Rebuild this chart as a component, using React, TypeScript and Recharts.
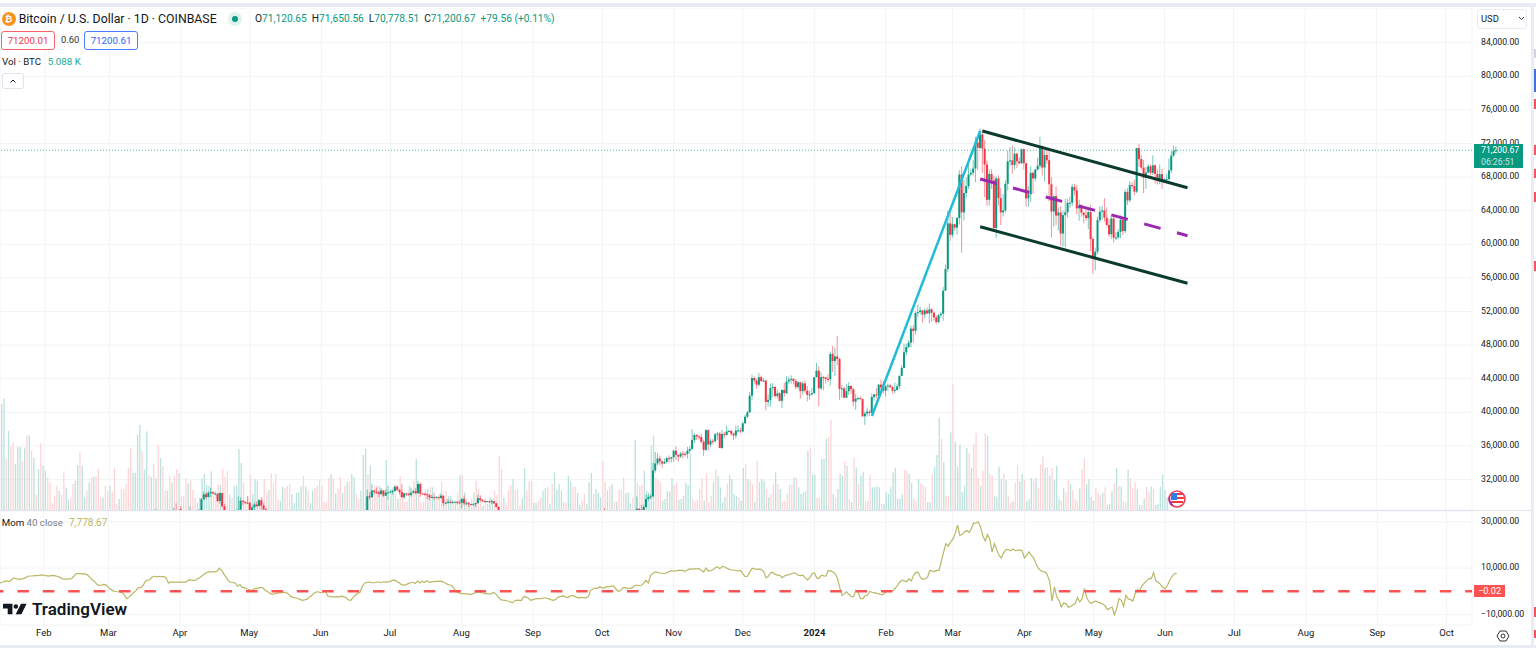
import { Bar, CartesianGrid, ComposedChart, Line, ReferenceLine, XAxis, YAxis } from 'recharts';

const UP = '#089981';
const DOWN = '#f23645';
const MOM = '#bab766';
const GRID = '#f3f4f6';
const FONT = 'Roboto, sans-serif';

const MONTHS = ['2024', 'Feb', 'Mar', 'Apr', 'May', 'Jun', 'Jul', 'Aug', 'Sep', 'Oct', 'Nov', 'Dec'];
const priceTicks = [32000, 36000, 40000, 44000, 48000, 52000, 56000, 60000, 64000, 68000, 72000, 76000, 80000, 84000];
const momTicks = [-10000, 10000, 30000];

// [first day index, number of days]: candles lower than the pane bottom are not listed
const candleRuns = [[67, 1], [75, 2], [78, 1], [82, 1], [86, 12], [102, 14], [158, 59], [262, 1], [276, 235]];

const opens = [
  27800, 27270, 28340, 28470, 28170,
  27950, 28330, 29650, 30240, 29900, 30400, 30490, 30320, 30320, 29440, 30390, 28800,
  27510, 28300, 28420, 29470, 29340, 29250, 29230, 28060, 28680, 29030, 28840, 29530, 28900, 28450,
  26840, 28310, 30000, 29890, 30690, 30530, 30470, 30270, 30690, 30080, 30450, 30470, 30590, 30620, 31150, 30770, 30500, 29890, 30350, 30290,
  30170, 30420, 30620, 30380, 31470, 30310, 30290, 30250, 30140, 29860, 29920, 29800, 29900, 29790, 30080, 29180, 29230, 29350, 29220, 29320,
  29360, 29280, 29230, 29700, 29170, 29180, 29080, 29040, 29050, 29180, 29770, 29560, 29430, 29400, 29420, 29290, 29410, 29170, 28720,
  27980,
  27150, 28510, 28410, 28330, 28720, 29680, 29920, 29990, 33080, 33910, 34500, 34150, 33900, 34090, 34540, 34490,
  34650, 35420, 34940, 34730, 35080, 35050, 35040, 35420, 35640, 36700, 37300, 37130, 37060, 36490, 35540, 37880, 36160, 36600, 36570, 37380, 37470, 35760, 37420, 37290, 37720, 37790, 37450, 37240, 37820, 37850,
  37720, 38690, 39470, 39980, 41990, 44080, 43770, 43290, 44180, 43720, 43790, 41240, 41480, 42880, 43020, 41940, 42260, 41370, 42660, 42270, 43660, 43860, 43990, 43730, 43010, 43580, 42520, 43440, 42580, 42070, 42140,
  42280, 44180, 44950, 42850, 44180, 44170, 43970, 43930, 46960, 46110, 46650, 46340, 42780, 42850, 41730, 42510, 43140, 42740, 41270, 41620, 41680, 41570, 39530, 39850, 40080, 39930, 41820, 42120, 42030, 43300, 42950,
  42580, 43080, 43190, 42990, 42580, 42660, 43090, 44340, 45290, 47140, 47770, 48290, 49960, 49700, 51810, 51940, 52130, 51650, 52120, 51780, 52260, 51850, 51300, 50740, 51570, 51730, 54480, 57050, 62490,
  61130, 62390, 61990, 63130, 68300, 63800, 66100, 66930, 68300, 68500, 69020, 72100, 71480, 73080, 71390, 69500, 65300, 68380, 67600, 61930, 67840, 65500, 63800, 64030, 67210, 69880, 69990, 69450, 70780, 69870, 69650,
  71330, 69650, 65470, 65960, 68500, 67840, 68900, 69360, 71620, 69140, 70630, 70010, 67150, 63900, 65740, 63420, 63790, 61280, 63470, 63810, 64940, 64940, 66840, 66410, 64280, 64490, 63770, 63460, 63120, 63840,
  60630, 58250, 59120, 62890, 63890, 64030, 63160, 62310, 61190, 63070, 60790, 60820, 61480, 62940, 61580, 66240, 65230, 67050, 66940, 66270, 71450, 70140, 69120, 67930, 68540, 69280, 68510, 69400, 68370, 67620, 68350,
  67530, 67750, 67760, 68800, 70560, 71110, 71120.65,
];

const highs = [
  28500, 28650, 29170, 28800, 28770,
  28500, 29770, 30550, 30490, 30620, 31000, 30620, 30550, 30320, 30490, 30410, 29100,
  28400, 30000, 29880, 29570, 29460, 30000, 29330, 28880, 29260, 29380, 29680, 29850, 29160, 28630,
  28400, 30800, 30500, 31430, 30820, 31060, 30660, 31000, 30700, 30830, 31280, 30660, 30790, 31400, 31330, 30880, 31500, 30450, 30390, 30450,
  31040, 30810, 30990, 31830, 31640, 30400, 30460, 30340, 30250, 30200, 30420, 30050, 29990, 30350, 30100, 29380, 29700, 29580, 29530, 29410,
  29450, 29530, 29740, 30050, 29440, 29320, 29120, 29180, 29250, 30200, 30130, 29700, 29540, 29450, 29470, 29660, 29480, 29230, 28780,
  28600,
  30000, 28610, 28980, 29000, 30200, 30370, 30220, 34000, 35280, 35130, 34830, 34240, 34480, 34740, 34880, 34700,
  35570, 35970, 34940, 35280, 35380, 35280, 35890, 35990, 37970, 37530, 37400, 37230, 37430, 36750, 37980, 37980, 36850, 36850, 37520, 37660, 37660, 37880, 37660, 38420, 37890, 37830, 37600, 38400, 38450, 38170,
  38850, 39700, 40200, 42400, 44490, 44300, 44050, 44700, 44380, 44050, 43800, 42100, 43430, 43480, 43090, 42720, 42430, 42760, 43500, 44290, 44230, 44400, 44020, 43950, 43790, 43600, 43690, 43800, 43130, 42600, 42900,
  44190, 45900, 45500, 44770, 44350, 44230, 44500, 47250, 47900, 47700, 49050, 46500, 43250, 43080, 43400, 43580, 43200, 42930, 42200, 41860, 41900, 41650, 40130, 40550, 40300, 42220, 42190, 42850, 43310, 43880, 43740,
  43250, 43430, 43380, 43120, 43530, 43400, 44380, 45600, 48200, 48170, 48590, 50330, 50370, 52040, 52830, 52570, 52170, 52370, 52480, 52950, 52380, 52000, 51530, 51700, 51960, 54900, 57580, 64000, 63660,
  63250, 62450, 63230, 68800, 69300, 67650, 67990, 70200, 69000, 70000, 72800, 72900, 73780, 73670, 72400, 70000, 68900, 68950, 68150, 68100, 68200, 66700, 65980, 67600, 71150, 71560, 71750, 71550, 70900, 70350, 71380,
  71380, 69700, 66900, 69300, 68700, 69000, 70300, 72800, 71750, 71200, 71250, 71250, 68000, 65800, 66900, 64400, 64500, 64000, 65400, 65400, 65700, 67200, 67200, 67050, 65300, 64800, 63900, 64400, 64200, 64700,
  60800, 59600, 63300, 64500, 64600, 65500, 64400, 63000, 63400, 63450, 61450, 61800, 63450, 63100, 66500, 66700, 67500, 67400, 67700, 71500, 71950, 70650, 70050, 69200, 69550, 69500, 70600, 69550, 68900, 69500, 69000,
  67850, 68400, 70200, 71050, 71750, 71650.56,
];

const lows = [
  27700, 27250, 27720, 28260, 27830,
  27900, 28170, 29590, 29640, 29880, 29900, 30240, 30150, 29300, 29100, 28650, 28000,
  27200, 27250, 28380, 28900, 29100, 29100, 27680, 27870, 28130, 28680, 28810, 28420, 28310, 27300,
  26620, 28260, 29620, 29820, 30250, 30270, 29900, 30220, 29900, 30050, 29500, 30320, 30210, 30560, 30630, 30200, 29860, 29700, 30040, 30050,
  29950, 30310, 30210, 30250, 29920, 30250, 30070, 29660, 29510, 29780, 29560, 29720, 29640, 29740, 28860, 29050, 29100, 29130, 29120, 29260,
  29050, 29100, 28580, 28950, 28950, 28730, 28960, 28980, 28700, 29110, 29360, 29320, 29240, 29350, 29240, 29100, 29060, 28700, 25170,
  27330,
  27120, 28100, 28150, 28180, 28600, 29470, 29670, 29890, 32800, 33680, 33700, 33390, 33830, 33930, 34050, 34060,
  34100, 34340, 34100, 34570, 34530, 34730, 34510, 35110, 35530, 36340, 36700, 36760, 36340, 34800, 35370, 35500, 35880, 36180, 36390, 36720, 35730, 35650, 36880, 37250, 37600, 37150, 36720, 36880, 37600, 37500,
  37620, 38650, 39280, 39980, 41420, 43400, 42820, 43080, 43600, 43570, 40220, 40680, 40670, 41800, 41700, 41660, 41260, 40530, 41840, 42200, 43330, 43400, 43310, 42750, 42760, 41630, 42100, 42300, 41300, 41520, 41970,
  42190, 44150, 40750, 42640, 42630, 43420, 43600, 43200, 44800, 44300, 45600, 41500, 41750, 41720, 41730, 42050, 42190, 40700, 40300, 41450, 41500, 39440, 38500, 39480, 39550, 39830, 41400, 41630, 41800, 42680, 42270,
  41880, 42580, 42880, 42250, 42270, 42570, 42780, 44330, 45250, 46800, 47630, 47730, 48300, 49260, 51340, 51630, 50650, 51190, 51670, 50620, 50790, 50900, 50510, 50600, 51280, 50900, 54450, 56700, 60400,
  60800, 61600, 61150, 62350, 59000, 62850, 65500, 66600, 68100, 68200, 67400, 68800, 71330, 68500, 65600, 64600, 64600, 66600, 61500, 60800, 64600, 62300, 63300, 63800, 66400, 69300, 68400, 68900, 69100, 69550, 69580,
  68900, 64500, 64500, 65050, 66000, 67500, 68800, 69000, 68200, 67500, 69570, 65100, 60800, 62100, 62300, 61650, 59800, 59700, 59650, 63200, 64300, 64550, 65800, 63600, 62800, 63300, 62500, 62800, 61800, 59200,
  56500, 56900, 58800, 62600, 62900, 62700, 62100, 60900, 60650, 60200, 60500, 60650, 60750, 61100, 61350, 64700, 65000, 66600, 65850, 66100, 69200, 68900, 66100, 66600, 68500, 68200, 68250, 67200, 67100, 67150, 66600,
  67400, 67300, 67600, 68500, 70400, 70778.51,
];

const closes = [
  28150, 28340, 28030, 28450, 28170,
  28330, 29650, 30240, 29900, 30400, 30490, 30320, 30320, 29440, 30390, 28800, 28250,
  28300, 28420, 29470, 29340, 29250, 29230, 28060, 28680, 29030, 28840, 29530, 28900, 28450, 27690,
  28310, 30000, 29890, 30690, 30530, 30470, 30270, 30690, 30080, 30450, 30470, 30590, 30620, 31150, 30770, 30500, 29890, 30350, 30290, 30170,
  30420, 30620, 30380, 31470, 30310, 30290, 30250, 30140, 29860, 29920, 29800, 29900, 29790, 30080, 29180, 29230, 29350, 29220, 29320, 29360,
  29280, 29230, 29700, 29170, 29180, 29080, 29040, 29050, 29180, 29770, 29560, 29430, 29400, 29420, 29290, 29410, 29170, 28720, 26620,
  27510,
  28510, 28410, 28330, 28720, 29680, 29920, 29990, 33080, 33910, 34500, 34150, 33900, 34090, 34540, 34490, 34650,
  35420, 34940, 34730, 35080, 35050, 35040, 35420, 35640, 36700, 37300, 37130, 37060, 36490, 35540, 37880, 36160, 36600, 36570, 37380, 37470, 35760, 37420, 37290, 37720, 37790, 37450, 37240, 37820, 37850, 37720,
  38690, 39470, 39980, 41990, 44080, 43770, 43290, 44180, 43720, 43790, 41240, 41480, 42880, 43020, 41940, 42260, 41370, 42660, 42270, 43660, 43860, 43990, 43730, 43010, 43580, 42520, 43440, 42580, 42070, 42140, 42280,
  44180, 44950, 42850, 44180, 44170, 43970, 43930, 46960, 46110, 46650, 46340, 42780, 42850, 41730, 42510, 43140, 42740, 41270, 41620, 41680, 41570, 39530, 39850, 40080, 39930, 41820, 42120, 42030, 43300, 42950, 42580,
  43080, 43190, 42990, 42580, 42660, 43090, 44340, 45290, 47140, 47770, 48290, 49960, 49700, 51810, 51940, 52130, 51650, 52120, 51780, 52260, 51850, 51300, 50740, 51570, 51730, 54480, 57050, 62490, 61130,
  62390, 61990, 63130, 68300, 63800, 66100, 66930, 68300, 68500, 69020, 72100, 71480, 73080, 71390, 69500, 65300, 68380, 67600, 61930, 67840, 65500, 63800, 64030, 67210, 69880, 69990, 69450, 70780, 69870, 69650, 71330,
  69650, 65470, 65960, 68500, 67840, 68900, 69360, 71620, 69140, 70630, 70010, 67150, 63900, 65740, 63420, 63790, 61280, 63470, 63810, 64940, 64940, 66840, 66410, 64280, 64490, 63770, 63460, 63120, 63840, 60630,
  58250, 59120, 62890, 63890, 64030, 63160, 62310, 61190, 63070, 60790, 60820, 61480, 62940, 61580, 66240, 65230, 67050, 66940, 66270, 71450, 70140, 69120, 67930, 68540, 69280, 68510, 69400, 68370, 67620, 68350, 67530,
  67750, 67760, 68800, 70560, 71110, 71200.67,
];

// thousand BTC per day, negative on a down day
const signedVolumes = [
  42.4, 44.7, -20.4, 31.7, -25.7, -27, 18.4, 25.3, 25.3, -19.7, 25, -30.1, 29.7, -23.7, 21, -6, 16.4, -26.7, 17.7, 15.7,
  -13, -11, -3, -5.5, -9.7, 7.7, -6.1, -15, 9, 4.1, -5, -10.4, 11.7, 18, -23, 17.7, 5, -7.7, 11, -13, 13.3, -13.3, -16.4, -5, 5, -9.7, -7.7, 9.7,
  -7.3, -17, -2.4, 4.4, -8.4, -8.4, -10.4, -16.7, -24.8, 14.8, 14.8, 30, 34, -23.5, 16.1, 31.5, -14.1, 13.3, -18.4, 12.7, -26.1, 20.8, -17.3, -7.7, 7.7, -13.7, 11, -13.7, -16.4, 14.8,
  -5.7, -5.7, -12.7, 10.7, -11.7, -8.1, -4.8, 3, 5, 12.4, 14.4, 10, 9.7, 15.5, -5.7, -6.4, -10.4, 10, -16.4, -13.3, -15.5, 6.1, -5, 9.5, 9.7, 24.4, 18.8, -11, -3, -5.5, -14,
  6.4, 12.4, 11.7, 2.4, -5, -12.4, -7, 8, -14.7, -10.7, -14.4, -4.1, 3.7, 9.3, -8.8, -9.7, -10.4, 6.4, 2.8, 6.8, 7, 9.5, -13.7, 9.5, -7.7, 2.8, 7.7, -8.8, -9.7, -12.1,
  -9.7, -3, -3.3, -12.8, 14.4, -12.7, 6.7, -8.4, -13.3, 6.8, -9.7, 11.3, -11.5, 14.4, 13.1, -6.4, -4.4, 7.7, 22, 24.4, -14.4, 17.7, -7, -9.7, -9.7, 9.7, -8.4, -5.7, 20, -3.7,
  8.4, 9.1, -6.4, 4.4, -13.7, -8.4, -3.3, -3.3, 9.7, -7, -11.7, 20.4, -10, -3, -3.3, -8.4, 8.4, -9.1, 9.1, 4.4, -4.4, -6.4, -11.3, 2.4, -7.7, 5.7, 5.7, -3, 3, -7, 14,
  -13.7, 7, -4.4, 3.3, -4.4, 7, -11.7, -8.4, -5.7, 1.7, -4.4, 2.4, 5.3, 4, -7.7, -6, -21.7, -16.4, 5, -3, -8, -10, 12.4, -8, -8.4, -1.7, 4.7, 16.7, -7.7, -11.3, -11.6,
  3, 2.8, -3.5, -5, 7.7, 8.7, -9.1, 2.4, -10.4, 15.3, 8.1, 10.3, 7.7, -3.3, -2.8, 13.7, 11.3, -9.3, -9.3, 6.8, 2, -3.7, -6.4, 2.4, 11, 14.8, -6.4, 8.4, 7, 5,
  -19.5, -11, 7.7, -9.5, 10.4, -3.3, 3.3, -8.1, -8.1, -13, 6.7, 7, 2.7, -5, 28.1, -10.8, -9.7, -10.1, 15.7, 7.7, 6, 25.7, 29.7, -13, -12, -10.8, 3.7, 4.4, 7.5, 7.3,
  12.7, -10.1, -10.9, 4, 4.4, 5.7, 10.8, 10, 22.4, -4.4, -3.5, -4.1, -8.4, -12.7, 3.7, -14.7, -3.1, -5.7, 11.1, -16.4, 13.7, 9, 3.1, 5.1, -10.4, 14.1, 12.4, 6.4, 5.7, -5.1,
  3.7, 16.8, -18.4, 12.4, -11.7, -10.4, 3.1, -19.7, 11.1, 12.4, 11.7, -8.4, 5.1, -6.4, -10.4, 15.1, -10.4, 8.4, -3.5, -3.7, -6.4, -10.1, -10.1, 13.1, -13.1, 9.1, 6.4, 7.1, 7.7, 23.7, -25,
  14.1, 14.1, -4.8, -5.1, 20.4, 20.4, 28.4, -29.3, -36, 6.4, -5.1, 8.4, 14.4, 13.7, -19.5, 17.7, -4.4, 3.1, -21, 17, -10.4, 13.7, 15.1, -3.5, -3.7, -14.1, 9.1, 9.1,
  9.5, 9.1, -2.4, 2.4, 7.1, 6.4, 9.1, 15.1, 17, 4.7, 4.4, 6.4, -16, -15.7, 14.4, 10.7, -4.4, -3.5, 12.4, -10.7, -10.1, -9.1, 3.1, 3.1, -14.4, 17.3, 22, 37, -28.4,
  19.1, -5.7, -5.7, 31, -50.4, 27.1, 17.3, 26.1, 7.1, 9.7, 24.8, -22.8, 16.8, -26.4, -30.8, -12.8, 9.7, -15.7, -30.8, 29.7, -14.4, -13.7, 5.7, 5.3, 17.3, 12.4, -14.4, 12, -5.7, -2.8, 3.5,
  -10.8, -18.1, 11.5, 14.4, -12, 3.5, 4.4, 12.8, -11.7, 12.8, -8.8, -18.1, -21.3, 16.7, -17.1, 13.7, -16.8, 12, 17.7, 4.4, -3.7, 8.8, -7.1, -11.7, 10.4, -8, -4.4, -3.7, 8.7, -16.4,
  -20.8, 10.4, 12.4, 5.3, 3.7, -8.8, -7.1, -6.1, 6.8, -9.1, 2.1, 2.4, 7.5, -10.7, 16.8, -9.7, 9.3, -3.5, -3.1, 16.1, -12.8, -8.7, -11.1, 8.3, 2.1, -2, 4.4, -9.5, -7.1, 9.3, -8.3,
  2, 2.4, 9.3, 14.1, 8, 5.088,
];

// momentum in thousand USD
const momentumK = [
  3.6, 3.9, 4.3, 4.5, 4.2, 5, 5.8, 5.5, 5.3, 5.3, 5.5, 5.8, 6.5, 6.6, 6.6, 6.8, 6.8, 6.9, 7.1, 6.9,
  6.8, 6.6, 6.8, 6.9, 6.7, 6.4, 6, 5.4, 5.3, 5.3, 5.4, 5.5, 6.5, 7.6, 7.6, 7.5, 7.6, 7.4, 7, 6, 5, 4.2, 3, 2.6, 2.7, 3, 2.8, 1.6,
  0.9, 0.2, -0.1, -0.2, -0.3, -0.6, -1.8, -3.2, -2.4, -1.5, -0.5, 0.4, 1.6, 1.6, 2.5, 4.4, 4.8, 5, 6.2, 6.5, 6.2, 6.5, 6.3, 6.3, 5.8, 3.5, 4.2, 3.9, 4, 4, 4,
  4, 3.9, 4.3, 4.9, 4.8, 4.6, 5, 5.6, 6.2, 7, 7.7, 8.3, 8.4, 8.4, 8.4, 8.6, 10, 9.1, 7.5, 6, 4.6, 3.8, 3.8, 3.5, 2.2, 2.9, 1.7, 1.5, 1.1, 0.8,
  0.3, 0.9, 1.4, 1.4, 1.7, 1.5, 0.4, -0.2, -0.9, -1.2, -1.1, -0.8, -0.7, -0.6, -0.4, -0.6, -1.2, -2.2, -2.6, -2.8, -3.1, -3.5, -3.9, -3.7, -3.4, -2.6, -1.9, -0.9, -0.3, -0.2, -0.7,
  -0.3, 0.1, -1.9, -2.3, -2.3, -2.5, -2.3, -2.4, -2.1, -2.4, -2.8, -3.7, -3.9, -2.7, -1.7, -0.9, -0.5, 2.1, 3.5, 3.9, 4, 3.8, 3.6, 3.9, 4, 3.7, 4.1, 4, 4.1, 4.2,
  4.7, 4.8, 4.2, 3.7, 2.9, 2.7, 2.9, 3.3, 3.7, 3.9, 3.4, 4.4, 3.6, 4.4, 3.8, 4.6, 3.9, 4.1, 4.2, 4.3, 4.3, 4.4, 4.1, 3.6, 3, 2.7, 2.2, 0.9, -0.3, -0.7, -1,
  -1, -1.1, -1.2, -1.3, -1.1, -0.6, -0.3, -0.4, -0.7, -0.9, -1.1, -1.1, -1, -0.4, -1.3, -2.5, -3.6, -3.8, -3.9, -4.2, -4.4, -5, -4.2, -3.8, -3.9, -3.9,
  -2.2, -2.4, -3, -3.9, -3.6, -3.3, -3.2, -3.2, -3, -2.8, -3, -3.3, -3.7, -3.9, -3.4, -2.5, -2.2, -2, -2.3, -2.8, -2.2, -1.8, -2.1, -2.6, -2.8, -2.6, -2.7, -2.8, -2.2, 0.3, 1, 1.4, 1.3, 2,
  1.4, 1.6, 2, 1.9, 2.2, 2.2, 1, -0.1, 0.4, 1.5, 1.6, 1.4, 1.3, 1.5, 2.4, 2.7, 2.5, 2.6, 3.5, 4.7, 3.6, 6.9, 7.8, 8.4, 8.2, 7.9, 7.8, 7.7, 7.9, 8.5, 8.9,
  8.7, 8.8, 9, 9, 8.9, 8.6, 9.2, 9.7, 9.6, 9.7, 9.7, 9.8, 9, 8.4, 10, 8.7, 8.9, 9.3, 10.2, 10.6, 9.8, 10.7, 10.6, 10, 9.5, 9.2, 9.2, 9, 8.8, 9,
  7.5, 6.3, 6.5, 8.4, 10, 9.7, 9.5, 9.6, 9.4, 8.5, 5.8, 6.5, 8, 8.2, 7.3, 7, 6.9, 5.9, 6.6, 7, 7.2, 7.6, 7.9, 7.8, 6.9, 6.8, 7, 5.8, 4.9, 5.8, 7.6,
  8, 5.7, 5.6, 7, 6.7, 6.6, 9, 8.8, 8.3, 7.6, 5.5, 1.5, -1.8, -1, -0.2, -1.4, -2.3, -2.2, 0.5, -0.5, -3.2, -3.2, -1.9, -1.7, -0.1, -0.4, -0.6, -0.9, -1.1, -1.4, -1.2,
  -0.2, 0, 0.1, 0.3, 1.3, 2.6, 4, 4.8, 4.5, 4.1, 5.5, 4.5, 7, 8.2, 8.3, 5.8, 5.2, 5.4, 6, 9, 8.8, 8.5, 9, 9, 13, 17, 20.6, 19.5, 21.3,
  22.5, 25, 28.6, 24.2, 24.5, 25.6, 26.3, 25.5, 27, 29.5, 29.4, 30, 27.8, 24, 21.8, 24.5, 22.5, 17, 20.6, 18, 15.5, 14.4, 16.6, 18, 18, 17.5, 18.3, 17.6, 17.7, 17.9, 17.5,
  14.4, 15.5, 17, 15.5, 14.5, 12, 10, 9, 8.5, 8.4, 6.9, 4, -4.2, 1.9, -2.4, -3.9, -6.8, -5, -5.3, -6.9, -6.5, -5.9, -5.3, -2.7, -4.6, -3.2, 1.2, -2.7, -4.5, -5.3,
  -4.5, -4.2, -4.8, -5, -5.6, -6.2, -7.9, -7.3, -6.8, -10.2, -7.5, -3.2, -3.9, -6.5, -1.7, -3.3, -3.6, -4.2, -1, 0.7, 0.4, 2.4, 3.6, 4.5, 5.6, 5.5, 8.1, 4.5, 3.9, 3, 1.6,
  1, 2.6, 4.8, 6.5, 7.6, 7.78,
];

const DAY_COUNT = 639;
const FIRST_DAY = Date.UTC(2023, 0, 13);
const dayOf = (i: number) => new Date(FIRST_DAY + i * 86400000).toISOString().slice(0, 10);

const rows: any[] = [];
for (let i = 0; i < DAY_COUNT; i++) {
  rows.push({
    date: dayOf(i),
    volume: signedVolumes[i] === undefined ? null : Math.abs(signedVolumes[i]),
    down: signedVolumes[i] < 0,
    momentum: momentumK[i] === undefined ? null : momentumK[i] * 1000,
  });
}
let cursor = 0;
candleRuns.forEach(([first, count]) => {
  for (let i = first; i < first + count; i++, cursor++) {
    rows[i].open = opens[cursor];
    rows[i].high = highs[cursor];
    rows[i].low = lows[cursor];
    rows[i].close = closes[cursor];
    rows[i].range = [lows[cursor], highs[cursor]];
  }
});

const monthTicks = rows.map((r) => r.date).filter((d) => d.endsWith('-01'));
const monthLabel = (d: string) => MONTHS[Number(d.slice(5, 7)) - 1];
const money = (v: number) => (v < 0 ? '\u2212' : '') + Math.abs(v).toLocaleString('en-US', { minimumFractionDigits: 2 });

function Candle(props: any) {
  const { x, y, width, height, payload } = props;
  if (payload.high === undefined) return null;
  const k = height / (payload.high - payload.low);
  const color = payload.close >= payload.open ? UP : DOWN;
  const top = y + (payload.high - Math.max(payload.open, payload.close)) * k;
  const bodyHeight = Math.max(Math.abs(payload.close - payload.open) * k, 1);
  return (
    <g>
      <rect x={x + width / 2 - 0.5} y={y} width={1} height={height} fill={color} fillOpacity={0.55} />
      <rect x={x} y={top} width={width} height={bodyHeight} fill={color} />
    </g>
  );
}

function VolumeBar(props: any) {
  const { x, y, width, height, payload } = props;
  if (!height) return null;
  return <rect x={x} y={y} width={width} height={height} fill={payload.down ? '#fdd5d7' : '#bbe2dc'} />;
}

function MonthTick(props: any) {
  const { x, y, payload } = props;
  const label = monthLabel(payload.value);
  return (
    <text x={x} y={y} textAnchor="middle" dominantBaseline="middle" fontFamily={FONT} fontSize={9.5}
      fontWeight={label === '2024' ? 700 : 400} fill="#131722">{label}</text>
  );
}

const abs = (left: number, top: number, extra: any = {}): any => ({ position: 'absolute', left, top, whiteSpace: 'nowrap', ...extra });

function Header() {
  const ohlc = [['O', '71,120.65'], ['H', '71,650.56'], ['L', '70,778.51'], ['C', '71,200.67']];
  const boxText = { height: 17, borderRadius: 3, fontSize: 9.7, lineHeight: '17px', textAlign: 'center', background: '#fff' };
  return (
    <div style={{ fontFamily: FONT, color: '#131722' }}>
      <div style={abs(1.5, 12, { width: 14, height: 14, borderRadius: 7, background: '#f7931a', color: '#fff', fontSize: 9.5, lineHeight: '14px', textAlign: 'center', fontWeight: 700 })}>₿</div>
      <div style={abs(18.7, 12, { fontSize: 12.3, lineHeight: '14px' })}>Bitcoin / U.S. Dollar · 1D · COINBASE</div>
      <div style={abs(228, 11.5, { width: 14, height: 14, borderRadius: 7, background: '#dff3ef' })} />
      <div style={abs(232, 15.5, { width: 6, height: 6, borderRadius: 3, background: UP })} />
      <div style={abs(255, 12, { fontSize: 10.2, lineHeight: '14px', color: UP })}>
        {ohlc.map(([k, v]) => (
          <span key={k} style={{ marginRight: 5 }}><span style={{ color: '#131722' }}>{k}</span>{v}</span>
        ))}
        <span>+79.56 (+0.11%)</span>
      </div>
      <div style={abs(1, 31, { ...boxText, width: 52, border: '1px solid #f7626c', color: '#f23645' })}>71200.01</div>
      <div style={abs(61, 34, { fontSize: 9.4, lineHeight: '12px', color: '#333' })}>0.60</div>
      <div style={abs(84, 31, { ...boxText, width: 52, border: '1px solid #4a7dff', color: '#2962ff' })}>71200.61</div>
      <div style={abs(2, 56, { fontSize: 9.7, lineHeight: '12px' })}>Vol · BTC</div>
      <div style={abs(47.7, 56, { fontSize: 9.8, lineHeight: '12px', color: '#22ab94' })}>5.088 K</div>
      <div style={abs(1.5, 72.5, { width: 20, height: 14.5, border: '1px solid #e0e3eb', borderRadius: 3, background: '#fff' })}>
        <svg width={20} height={15}><path d="M7.5 8.5 L10 6 L12.5 8.5" fill="none" stroke="#131722" strokeWidth={1} /></svg>
      </div>
      <div style={abs(1477, 9, { width: 48, height: 18, border: '1px solid #e9ebf1', borderRadius: 3, background: '#fff', fontSize: 9.4, lineHeight: '18px', textIndent: 3 })}>USD</div>
      <svg style={abs(1518, 16)} width={7} height={5}><path d="M1 1 L3.5 3.5 L6 1" fill="none" stroke="#333" strokeWidth={1} /></svg>
      <div style={abs(1474, 144, { width: 49, height: 24, background: UP, color: '#fff', fontSize: 8.7, lineHeight: '11.5px', paddingTop: 1, textIndent: 7, boxSizing: 'border-box' })}>
        71,200.67<div style={{ opacity: 0.75 }}>06:26:51</div>
      </div>
    </div>
  );
}

function MomentumOverlay() {
  return (
    <div style={{ fontFamily: FONT, color: '#131722' }}>
      <div style={abs(1.7, 516.5, { fontSize: 9.7, lineHeight: '12px' })}>Mom <span style={{ color: '#787b86' }}>40 close</span></div>
      <div style={abs(69, 516.5, { fontSize: 10, lineHeight: '12px', color: MOM })}>7,778.67</div>
      <div style={abs(1474, 585, { width: 31, height: 12, background: '#ff5252', color: '#fff', fontSize: 9.2, lineHeight: '12px', textAlign: 'center' })}>{'\u22120.02'}</div>
      <svg style={abs(3, 603)} width={24} height={12} viewBox="0 0 28 14">
        <path d="M0 1 H11 V13 H5.5 V6.5 H0 Z" fill="#131722" />
        <circle cx={15} cy={4} r={2.6} fill="#131722" />
        <path d="M21 1 H27.5 L21.5 13 H14.8 Z" fill="#131722" />
      </svg>
      <div style={abs(32, 599, { fontSize: 17, lineHeight: '20px', fontWeight: 600 })}>TradingView</div>
      <svg style={abs(1496, 630)} width={14} height={12} viewBox="0 0 14 12">
        <path d="M1 6 L4 1 H10 L13 6 L10 11 H4 Z" fill="none" stroke="#333" strokeWidth={1} />
        <circle cx={7} cy={6} r={2} fill="none" stroke="#333" strokeWidth={1} />
      </svg>
    </div>
  );
}

function Flag() {
  return (
    <svg style={abs(1168, 490)} width={18} height={18} viewBox="0 0 18 18">
      <circle cx={9} cy={9} r={8} fill="#fff" stroke="#ef4156" strokeWidth={1.6} />
      <path d="M1.6 7.5 A8 8 0 0 0 4.5 15.5" fill="none" stroke="#9c27b0" strokeWidth={1.6} />
      <path d="M9 3 H15 V5 H9 Z M9 7 H15.8 V9 H9 Z M3 11 H15 V13 H3 Z" fill="#f23645" />
      <path d="M3 3 H9 V10 H3 Z" fill="#2f7fe8" />
    </svg>
  );
}

function PageEdges() {
  const marks = [[49, 58, '#d1d4dc'], [69, 92, '#3f6fe0'], [99, 109, '#f7525f'], [145, 155, '#f7525f'], [169, 178, '#f7525f'], [192, 202, '#f7525f'], [261, 271, '#f7525f'], [607, 617, '#f7525f'], [630, 638, '#f7525f']];
  return (
    <>
      <div style={abs(0, 3, { width: 1536, height: 4, background: '#e9ebf5' })} />
      <div style={abs(0, 645, { width: 1536, height: 3, background: '#e9ebf5' })} />
      <div style={abs(1531, 3, { width: 3, height: 645, background: '#e9ebf5' })} />
      {marks.map(([a, b, c]: any) => (
        <div key={a} style={abs(1534, a, { width: 2, height: b - a, background: c })} />
      ))}
    </>
  );
}

export default function App() {
  const priceTick = { fontSize: 8.7, fill: '#131722', fontFamily: FONT, dx: 1, dy: -1 };
  return (
    <div style={{ position: 'absolute', left: 0, top: 0, width: 1536, height: 648, overflow: 'hidden', background: '#fff' }}>
      <div style={{ position: 'absolute', left: 0, top: 8 }}>
        <ComposedChart width={1536} height={502} data={rows} margin={{ top: 0, right: 0, bottom: 0, left: 0 }}>
          <XAxis xAxisId="price" dataKey="date" hide ticks={monthTicks} interval={0} />
          <XAxis xAxisId="vol" dataKey="date" hide />
          <YAxis yAxisId="price" orientation="right" width={64} domain={[28369, 88131]} allowDataOverflow ticks={priceTicks}
            axisLine={false} tickLine={false} tick={priceTick} tickFormatter={money} interval={0} />
          <YAxis yAxisId="vol" hide domain={[0, 200.8]} allowDataOverflow />
          <CartesianGrid xAxisId="price" yAxisId="price" stroke={GRID} />
          <Bar xAxisId="vol" yAxisId="vol" dataKey="volume" barSize={1.3} shape={VolumeBar} isAnimationActive={false} />
          <Bar xAxisId="price" yAxisId="price" dataKey="range" barSize={2} shape={Candle} isAnimationActive={false} />
          <ReferenceLine xAxisId="price" yAxisId="price" y={71200.67} stroke={UP} strokeOpacity={0.7} strokeDasharray="1 2" />
          <ReferenceLine xAxisId="price" yAxisId="price" stroke="#1fbcd6" strokeWidth={2.5}
            segment={[{ x: dayOf(378), y: 39560 }, { x: dayOf(425), y: 73488 }]} />
          <ReferenceLine xAxisId="price" yAxisId="price" stroke="#0b3b2e" strokeWidth={3}
            segment={[{ x: dayOf(426), y: 73488 }, { x: dayOf(515), y: 66738 }]} />
          <ReferenceLine xAxisId="price" yAxisId="price" stroke="#0b3b2e" strokeWidth={3}
            segment={[{ x: dayOf(425), y: 62095 }, { x: dayOf(515), y: 55357 }]} />
          <ReferenceLine xAxisId="price" yAxisId="price" stroke="#9c27b0" strokeWidth={3} strokeDasharray="17 17"
            segment={[{ x: dayOf(425), y: 67774 }, { x: dayOf(515), y: 61024 }]} />
        </ComposedChart>
      </div>
      <div style={{ position: 'absolute', left: 0, top: 510, width: 1531, height: 1, background: '#e0e3eb' }} />
      <div style={{ position: 'absolute', left: 0, top: 511, background: '#fff' }}>
        <ComposedChart width={1536} height={134} data={rows} margin={{ top: 0, right: 0, bottom: 0, left: 0 }}>
          <XAxis dataKey="date" ticks={monthTicks} interval={0} height={20} axisLine={false} tickLine={false} tick={MonthTick} />
          <YAxis orientation="right" width={64} domain={[-14557, 34687]} allowDataOverflow ticks={momTicks} interval={0}
            axisLine={false} tickLine={false} tick={priceTick} tickFormatter={money} />
          <CartesianGrid stroke={GRID} />
          <Line dataKey="momentum" stroke={MOM} strokeWidth={1.2} dot={false} isAnimationActive={false} />
          <ReferenceLine y={-0.02} stroke="#ff5252" strokeWidth={2.4} strokeDasharray="11.5 13.9" strokeDashoffset={4.7} />
        </ComposedChart>
      </div>
      <Header />
      <MomentumOverlay />
      <Flag />
      <PageEdges />
    </div>
  );
}
